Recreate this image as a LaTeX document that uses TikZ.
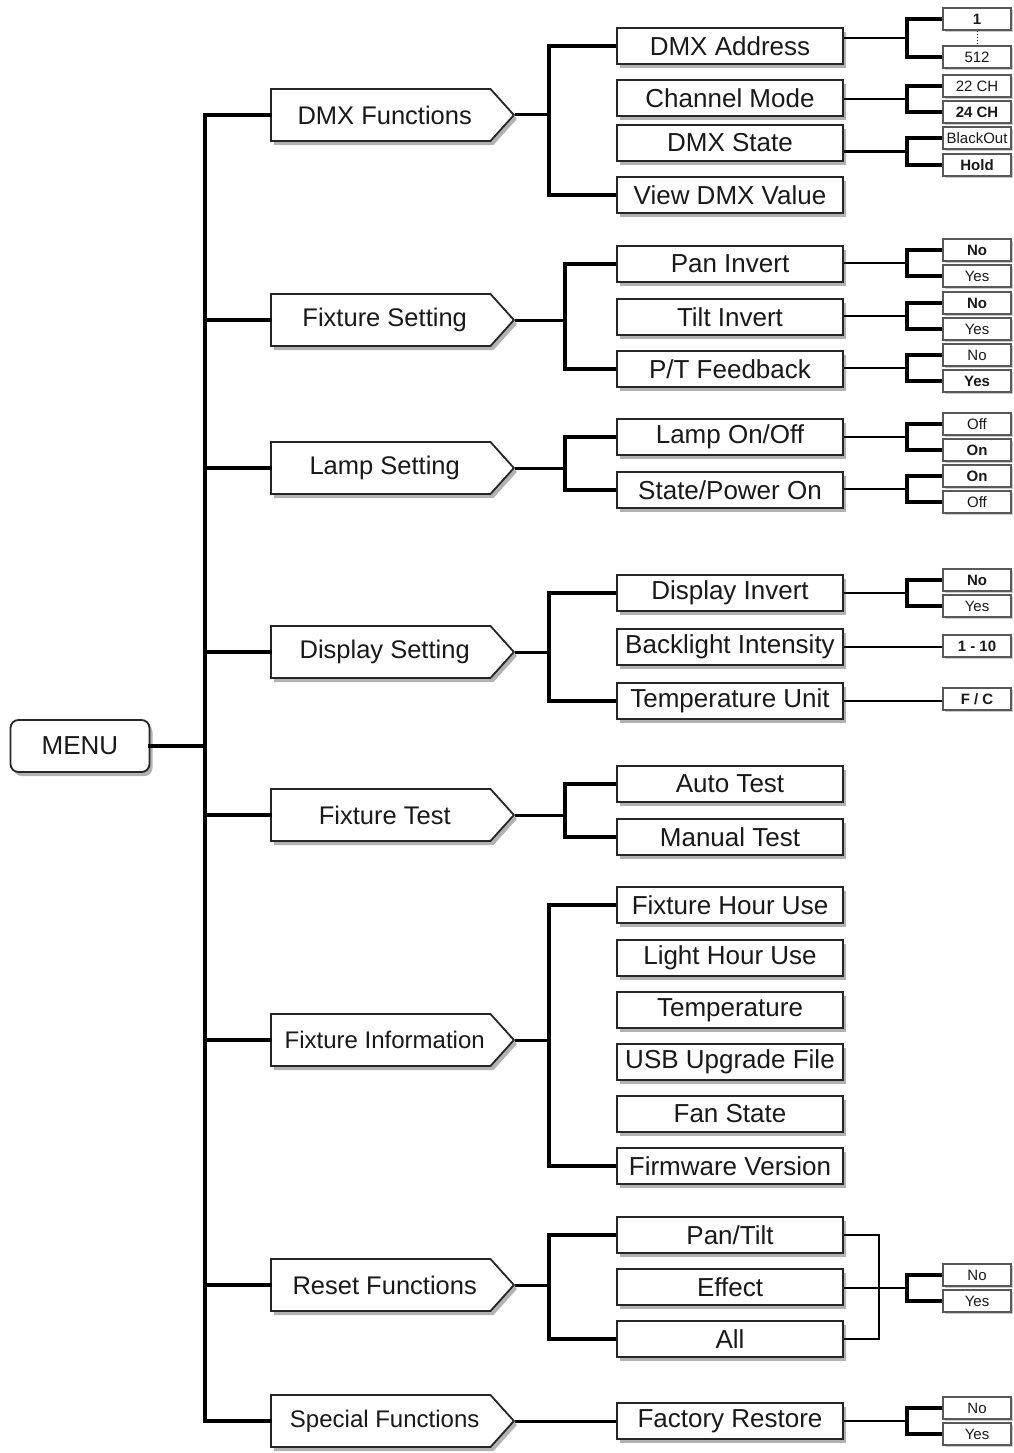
\documentclass[tikz,border=0pt]{standalone}
\usepackage{fontspec}
\setmainfont{Liberation Sans}
\usetikzlibrary{shapes.symbols,shadows,calc}
\newcommand\optpair[3]{%
  \coordinate (#2m) at ($(#2.west)!.5!(#3.west)$);
  \draw[optline] (#1.east |- #2m) -- (#2m -| ob);
  \draw[optbr] (#2.west) -- (#2.west -| ob) -- (#3.west -| ob) -- (#3.west);
}
\begin{document}
\begin{tikzpicture}[x=1pt,y=-1pt,
  txt/.style={text=black!90},
  shad/.style={drop shadow={shadow xshift=3pt,shadow yshift=-4pt,opacity=0.3,fill=black}},
  menubox/.style={txt,draw=black!85,line width=1.8pt,fill=white,rounded corners=8pt,minimum width=139pt,minimum height=52pt,inner sep=0pt,font=\fontsize{26}{30}\selectfont,shad},
  lvltwo/.style={txt,signal,signal to=east,signal pointer angle=96,draw=black!85,line width=1.8pt,fill=white,minimum width=243pt,minimum height=52pt,inner sep=0pt,font=\fontsize{25.5}{30}\selectfont,shad,anchor=west},
  lvlthree/.style={txt,draw=black!85,line width=2pt,fill=white,minimum width=226pt,minimum height=36pt,inner sep=0pt,font=\fontsize{26}{30}\selectfont,shad},
  opt/.style={txt,draw=black!65,line width=1.2pt,fill=white,minimum width=68pt,minimum height=22pt,inner sep=0pt,font=\fontsize{15}{17}\selectfont,drop shadow={shadow xshift=1.5pt,shadow yshift=-2pt,opacity=0.2,fill=black}},
  optb/.style={opt,font=\fontsize{15}{17}\selectfont\bfseries},
  trunk/.style={line width=4.5pt,line join=miter,line cap=rect},
  brk/.style={line width=4.5pt,line join=miter},
  tipline/.style={line width=3pt},
  optline/.style={line width=2.2pt},
  optbr/.style={line width=3.5pt,line join=miter},
]
\useasboundingbox (0,0) rectangle (1013,1453);
\coordinate (tr) at (205,0);
\coordinate (b1) at (549,0);
\coordinate (b2) at (565,0);
\coordinate (ob) at (907,0);
\coordinate (rb) at (879,0);

% MENU
\node[menubox] (menu) at (80,746) {MENU};

% level 2
\node[lvltwo] (dmxf) at (270,115) {\hspace*{8pt}DMX Functions};
\node[lvltwo] (fixs) at (270,320) {\hspace*{8pt}Fixture Setting};
\node[lvltwo] (lamps) at (270,468) {\hspace*{8pt}Lamp Setting};
\node[lvltwo] (disps) at (270,652) {\hspace*{8pt}Display Setting};
\node[lvltwo] (fixt) at (270,815) {\hspace*{8pt}Fixture Test};
\node[lvltwo,font=\fontsize{24}{28}\selectfont] (fixi) at (270,1040) {\hspace*{8pt}Fixture Information};
\node[lvltwo] (resf) at (270,1285) {\hspace*{8pt}Reset Functions};
\node[lvltwo,font=\fontsize{24}{28}\selectfont] (spec) at (270,1421) {\hspace*{8pt}Special Functions};

% level 3
\node[lvlthree] (dmxa) at (730,46) {DMX Address};
\node[lvlthree] (chm) at (730,98) {Channel Mode};
\node[lvlthree] (dmxs) at (730,143) {DMX State};
\node[lvlthree] (vdmx) at (730,195) {View DMX Value};
\node[lvlthree] (pani) at (730,264) {Pan Invert};
\node[lvlthree] (tilti) at (730,317) {Tilt Invert};
\node[lvlthree] (ptf) at (730,369) {P/T Feedback};
\node[lvlthree] (lamp) at (730,437) {Lamp On/Off};
\node[lvlthree] (spo) at (730,490) {State/Power On};
\node[lvlthree] (dinv) at (730,593) {Display Invert};
\node[lvlthree] (bli) at (730,647) {Backlight Intensity};
\node[lvlthree] (tun) at (730,701) {Temperature Unit};
\node[lvlthree] (autot) at (730,784) {Auto Test};
\node[lvlthree] (mant) at (730,837) {Manual Test};
\node[lvlthree] (fhu) at (730,905) {Fixture Hour Use};
\node[lvlthree] (lhu) at (730,958) {Light Hour Use};
\node[lvlthree] (temp) at (730,1010) {Temperature};
\node[lvlthree] (usb) at (730,1062) {USB Upgrade File};
\node[lvlthree] (fans) at (730,1114) {Fan State};
\node[lvlthree] (fwv) at (730,1166) {Firmware Version};
\node[lvlthree] (pt) at (730,1235) {Pan/Tilt};
\node[lvlthree] (eff) at (730,1287) {Effect};
\node[lvlthree] (alln) at (730,1339) {All};
\node[lvlthree] (facr) at (730,1421) {Factory Restore};

% options
\node[optb] (oa1) at (977,19) {1};
\node[opt] (oa2) at (977,57) {512};
\node[opt] (ob1) at (977,86) {22 CH};
\node[optb] (ob2) at (977,112) {24 CH};
\node[opt] (oc1) at (977,138) {BlackOut};
\node[optb] (oc2) at (977,165) {Hold};
\node[optb] (od1) at (977,250) {No};
\node[opt] (od2) at (977,276) {Yes};
\node[optb] (oe1) at (977,303) {No};
\node[opt] (oe2) at (977,329) {Yes};
\node[opt] (of1) at (977,355) {No};
\node[optb] (of2) at (977,381) {Yes};
\node[opt] (og1) at (977,424) {Off};
\node[optb] (og2) at (977,450) {On};
\node[optb] (oh1) at (977,476) {On};
\node[opt] (oh2) at (977,502) {Off};
\node[optb] (oi1) at (977,580) {No};
\node[opt] (oi2) at (977,606) {Yes};
\node[optb] (oj) at (977,646) {1 - 10};
\node[optb] (ok) at (977,699) {F / C};
\node[opt] (ol1) at (977,1275) {No};
\node[opt] (ol2) at (977,1301) {Yes};
\node[opt] (om1) at (977,1408) {No};
\node[opt] (om2) at (977,1434) {Yes};

\draw[line width=1pt,dotted] (oa1.south) -- (oa2.north);

% trunk
\draw[trunk] (menu.east) -- (menu.east -| tr);
\draw[trunk] (dmxf.west) -- (dmxf.west -| tr) -- (spec.west -| tr) -- (spec.west);
\foreach \n in {fixs,lamps,disps,fixt,fixi,resf}
  \draw[trunk] (\n.west -| tr) -- (\n.west);

% level 2 -> level 3
\draw[tipline] (dmxf.east) -- (dmxf.east -| b1);
\draw[brk] (dmxa.west) -- (dmxa.west -| b1) -- (vdmx.west -| b1) -- (vdmx.west);
\draw[tipline] (fixs.east) -- (fixs.east -| b2);
\draw[brk] (pani.west) -- (pani.west -| b2) -- (ptf.west -| b2) -- (ptf.west);
\draw[tipline] (lamps.east) -- (lamps.east -| b2);
\draw[brk] (lamp.west) -- (lamp.west -| b2) -- (spo.west -| b2) -- (spo.west);
\draw[tipline] (disps.east) -- (disps.east -| b1);
\draw[brk] (dinv.west) -- (dinv.west -| b1) -- (tun.west -| b1) -- (tun.west);
\draw[tipline] (fixt.east) -- (fixt.east -| b2);
\draw[brk] (autot.west) -- (autot.west -| b2) -- (mant.west -| b2) -- (mant.west);
\draw[tipline] (fixi.east) -- (fixi.east -| b1);
\draw[brk] (fhu.west) -- (fhu.west -| b1) -- (fwv.west -| b1) -- (fwv.west);
\draw[tipline] (resf.east) -- (resf.east -| b1);
\draw[brk] (pt.west) -- (pt.west -| b1) -- (alln.west -| b1) -- (alln.west);
\draw[tipline] (spec.east) -- (facr.west);

% level 3 -> options
\optpair{dmxa}{oa1}{oa2}
\optpair{chm}{ob1}{ob2}
\optpair{dmxs}{oc1}{oc2}
\optpair{pani}{od1}{od2}
\optpair{tilti}{oe1}{oe2}
\optpair{ptf}{of1}{of2}
\optpair{lamp}{og1}{og2}
\optpair{spo}{oh1}{oh2}
\optpair{dinv}{oi1}{oi2}
\draw[optline] (bli.east) -- (bli.east -| oj.west);
\draw[optline] (tun.east) -- (tun.east -| ok.west);
\draw[line width=2.6pt,line join=miter] (pt.east) -- (pt.east -| rb) -- (alln.east -| rb) -- (alln.east);
\optpair{eff}{ol1}{ol2}
\optpair{facr}{om1}{om2}
\end{tikzpicture}
\end{document}
